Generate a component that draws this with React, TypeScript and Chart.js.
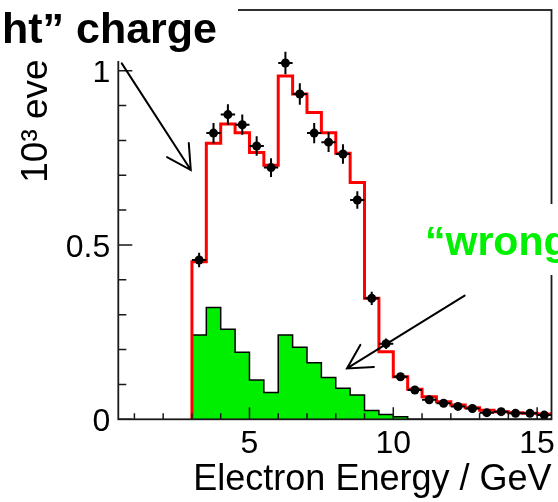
import React, { useEffect, useRef } from 'react';
import { Chart, registerables } from 'chart.js';

Chart.register(...registerables);

// Histogram bins (low edges, GeV), bin width 0.5 GeV
const binLowEdges = [3, 3.5, 4, 4.5, 5, 5.5, 6, 6.5, 7, 7.5, 8, 8.5, 9, 9.5, 10, 10.5, 11, 11.5, 12, 12.5, 13, 13.5, 14, 14.5, 15];
const binWidth = 0.5;

// Total prediction (red), 10^3 events
const totalPrediction = [0.452, 0.792, 0.847, 0.822, 0.765, 0.729, 0.985, 0.933, 0.880, 0.822, 0.763, 0.679, 0.347, 0.194, 0.122, 0.086, 0.065, 0.050, 0.041, 0.033, 0.026, 0.022, 0.019, 0.017, 0.015];

// "wrong" charge component (green)
const wrongCharge = [0.242, 0.321, 0.258, 0.192, 0.113, 0.077, 0.242, 0.207, 0.162, 0.120, 0.089, 0.070, 0.025, 0.014, 0.007, 0, 0, 0, 0, 0, 0, 0, 0, 0, 0];

// Data points (black) and their errors
const dataValues = [0.457, 0.821, 0.874, 0.845, 0.784, 0.722, 1.022, 0.933, 0.821, 0.795, 0.761, 0.629, 0.347, 0.217, 0.122, 0.084, 0.056, 0.046, 0.037, 0.031, 0.019, 0.022, 0.017, 0.017, 0.012];
const dataErrors = [0.021, 0.029, 0.030, 0.029, 0.028, 0.027, 0.032, 0.031, 0.029, 0.028, 0.028, 0.025, 0.019, 0.015, 0.011, 0.009, 0.008, 0.007, 0.006, 0.006, 0.004, 0.005, 0.004, 0.004, 0.003];

// Axis ticks
const xTickValues = [5, 10, 15];
const yTickValues = [0, 0.5, 1];
const xRange = [0.44, 15.5];
const yRange = [0, 1.174];

// Annotation texts
const leftLabel = 'ht\u201d charge';
const rightLabel = '\u201cwrong';
const xTitle = 'Electron Energy / GeV';
const yTitle = '10\u00b3 events';

function stepPoints(vals: number[]) {
  const pts: { x: number; y: number }[] = [{ x: binLowEdges[0], y: 0 }];
  vals.forEach((v, i) => {
    pts.push({ x: binLowEdges[i], y: v });
    pts.push({ x: binLowEdges[i] + binWidth, y: v });
  });
  return pts;
}

const FONT = '"Liberation Sans", Arial, sans-serif';

const framePlugin = {
  id: 'rootFrame',
  afterDatasetsDraw(chart: any) {
    const { ctx, chartArea: a, scales } = chart;
    const xs = scales.x;
    const ys = scales.y;
    ctx.save();
    ctx.strokeStyle = '#1a1a1a';
    ctx.lineWidth = 1.5;
    ctx.beginPath();
    for (let v = 1; v <= 15; v++) {
      const px = xs.getPixelForValue(v);
      const len = v % 5 === 0 ? 12 : 6;
      ctx.moveTo(px, a.bottom);
      ctx.lineTo(px, a.bottom - len);
    }
    for (let k = 0; k <= 11; k++) {
      const v = k / 10;
      const py = ys.getPixelForValue(v);
      const len = k % 5 === 0 ? 14 : 8;
      ctx.moveTo(a.left, py);
      ctx.lineTo(a.left + len, py);
    }
    ctx.stroke();
    ctx.lineWidth = 1.8;
    ctx.strokeRect(a.left, a.top, a.right - a.left, a.bottom - a.top);
    ctx.restore();
  },
};

const errorBarPlugin = {
  id: 'errorBars',
  afterDatasetsDraw(chart: any) {
    const { ctx, scales } = chart;
    const xs = scales.x;
    const ys = scales.y;
    ctx.save();
    ctx.strokeStyle = '#000';
    ctx.lineWidth = 2;
    ctx.beginPath();
    dataValues.forEach((v, i) => {
      const c = binLowEdges[i] + binWidth / 2;
      const px = xs.getPixelForValue(c);
      const py = ys.getPixelForValue(v);
      ctx.moveTo(px, ys.getPixelForValue(v - dataErrors[i]));
      ctx.lineTo(px, ys.getPixelForValue(v + dataErrors[i]));
      ctx.moveTo(xs.getPixelForValue(c - binWidth / 2), py);
      ctx.lineTo(xs.getPixelForValue(c + binWidth / 2), py);
    });
    ctx.stroke();
    ctx.restore();
  },
};

function drawArrow(ctx: CanvasRenderingContext2D, x0: number, y0: number, x1: number, y1: number) {
  const ang = Math.atan2(y0 - y1, x0 - x1);
  const head = 27;
  const spread = 0.5;
  ctx.beginPath();
  ctx.moveTo(x0, y0);
  ctx.lineTo(x1, y1);
  ctx.moveTo(x1 + head * Math.cos(ang + spread), y1 + head * Math.sin(ang + spread));
  ctx.lineTo(x1, y1);
  ctx.lineTo(x1 + head * Math.cos(ang - spread), y1 + head * Math.sin(ang - spread));
  ctx.stroke();
}

// arrows in data coordinates: [x0, y0, x1(tip), y1(tip)]
const arrowRight = [0.56, 1.021, 2.96, 0.715];
const arrowWrong = [12.48, 0.355, 8.39, 0.146];

const annotationPlugin = {
  id: 'annotations',
  afterDraw(chart: any) {
    const { ctx, scales } = chart;
    const xs = scales.x;
    const ys = scales.y;
    ctx.save();
    ctx.strokeStyle = '#000';
    ctx.lineWidth = 2;
    ctx.lineCap = 'round';
    for (const a of [arrowRight, arrowWrong]) {
      drawArrow(ctx, xs.getPixelForValue(a[0]), ys.getPixelForValue(a[1]), xs.getPixelForValue(a[2]), ys.getPixelForValue(a[3]));
    }
    ctx.fillStyle = '#ffffff';
    ctx.fillRect(0, 0, 238, 61);
    ctx.fillRect(405, 204, 153, 71);
    ctx.font = `bold 43px ${FONT}`;
    ctx.fillStyle = '#000';
    ctx.textAlign = 'right';
    ctx.textBaseline = 'alphabetic';
    ctx.fillText(leftLabel, 217, 43);
    ctx.font = `bold 41px ${FONT}`;
    ctx.fillStyle = 'rgb(0, 240, 0)';
    ctx.textAlign = 'left';
    ctx.fillText(rightLabel, 425, 255);
    ctx.restore();
  },
};

export default function App() {
  const ref = useRef<HTMLCanvasElement | null>(null);
  useEffect(() => {
    document.body.style.margin = '0';
    const canvas = ref.current!;
    const chart = new Chart(canvas, {
      type: 'line',
      data: {
        datasets: [
          {
            type: 'line',
            label: 'data',
            data: dataValues.map((v, i) => ({ x: binLowEdges[i] + binWidth / 2, y: v })),
            showLine: false,
            pointRadius: 4.5,
            pointHoverRadius: 4.5,
            pointBackgroundColor: '#000',
            pointBorderColor: '#000',
            pointBorderWidth: 0,
            order: 0,
          } as any,
          {
            type: 'line',
            label: 'total',
            data: stepPoints(totalPrediction),
            borderColor: '#ff0000',
            borderWidth: 3,
            pointRadius: 0,
            tension: 0,
            fill: false,
            borderJoinStyle: 'miter',
            order: 1,
          } as any,
          {
            type: 'line',
            label: 'wrong charge',
            data: stepPoints(wrongCharge),
            borderColor: '#000',
            borderWidth: 1.5,
            backgroundColor: 'rgb(0, 238, 0)',
            pointRadius: 0,
            tension: 0,
            fill: 'origin',
            borderJoinStyle: 'miter',
            order: 2,
          } as any,
        ],
      },
      options: {
        animation: false,
        responsive: false,
        maintainAspectRatio: false,
        layout: { padding: { left: 0, right: 6.5, top: 10, bottom: 0 } },
        plugins: { legend: { display: false }, tooltip: { enabled: false } },
        events: [],
        scales: {
          x: {
            type: 'linear',
            min: xRange[0],
            max: xRange[1],
            grid: { display: false, drawTicks: false },
            border: { display: false },
            afterBuildTicks: (s: any) => {
              s.ticks = xTickValues.map((v) => ({ value: v }));
            },
            afterFit: (s: any) => {
              s.height = 82.7;
              s.paddingLeft = 0;
              s.paddingRight = 0;
            },
            ticks: {
              autoSkip: false,
              maxRotation: 0,
              padding: 6,
              color: '#000',
              font: { family: FONT, size: 32 },
              callback: (v: any) => String(v),
            },
            title: {
              display: true,
              text: xTitle,
              align: 'end',
              color: '#000',
              font: { family: FONT, size: 36 },
              padding: { top: 0, bottom: 0 },
            },
          },
          y: {
            type: 'linear',
            min: yRange[0],
            max: yRange[1],
            grid: { display: false, drawTicks: false },
            border: { display: false },
            afterBuildTicks: (s: any) => {
              s.ticks = yTickValues.map((v) => ({ value: v }));
            },
            afterFit: (s: any) => {
              s.width = 118.3;
              s.paddingTop = 0;
              s.paddingBottom = 0;
            },
            ticks: {
              autoSkip: false,
              padding: 8,
              labelOffset: 3,
              color: '#000',
              font: { family: FONT, size: 32 },
              callback: (v: any) => String(v),
            },
            title: {
              display: true,
              text: yTitle,
              align: 'end',
              color: '#000',
              font: { family: FONT, size: 37 },
              padding: { top: 15, bottom: 0 },
            },
          },
        },
      },
      plugins: [framePlugin, errorBarPlugin, annotationPlugin],
    } as any);
    return () => chart.destroy();
  }, []);
  return (
    <div style={{ width: 558, height: 502, background: '#fff' }}>
      <canvas ref={ref} width={558} height={502} style={{ display: 'block' }} />
    </div>
  );
}
